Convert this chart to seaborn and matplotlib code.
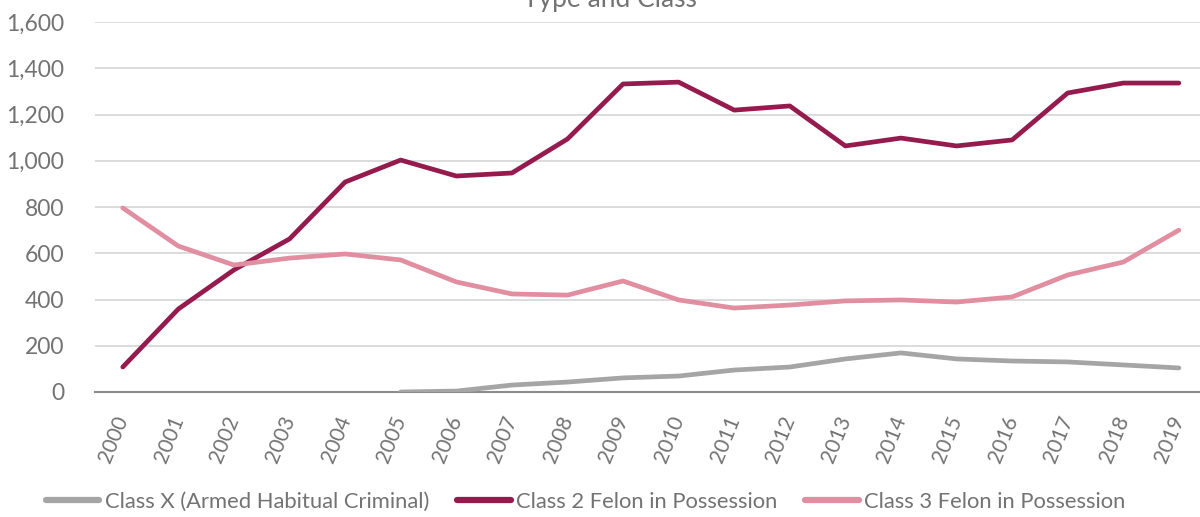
import numpy as np
import pandas as pd
import matplotlib
matplotlib.use("Agg")
import matplotlib.pyplot as plt
import seaborn as sns

# ── Data ─────────────────────────────────────────────────────────────────────
years = list(range(2000, 2020))

class_x = [np.nan, np.nan, np.nan, np.nan, np.nan,
           0, 4, 30, 43, 61, 69, 95, 108, 143, 169, 143, 134, 130, 117, 104]
class_2 = [108, 359, 528, 662, 908, 1003, 934, 947, 1094, 1332,
           1340, 1219, 1237, 1064, 1098, 1064, 1090, 1293, 1336, 1336]
class_3 = [796, 631, 549, 579, 597, 571, 476, 424, 419, 480,
           398, 363, 376, 394, 398, 389, 411, 506, 562, 700]

series_names = ["Class X (Armed Habitual Criminal)",
                "Class 2 Felon in Possession",
                "Class 3 Felon in Possession"]
y_ticks = [0, 200, 400, 600, 800, 1000, 1200, 1400, 1600]

# ── Colours ──────────────────────────────────────────────────────────────────
PALETTE = {
    series_names[0]: '#A5A5A5',
    series_names[1]: '#951A4E',
    series_names[2]: '#E08EA0',
}
TEXT = '#737373'
GRID = '#D9D9D9'

df = pd.DataFrame({
    'year': years * 3,
    'value': class_x + class_2 + class_3,
    'series': [s for s in series_names for _ in years],
})

sns.set_style('white')
plt.rcParams['font.family'] = ['Lato', 'DejaVu Sans']

fig = plt.figure(figsize=(12, 5.17), dpi=100)
ax = fig.add_axes([95 / 1200, 125 / 517, 1 - 95 / 1200, 370 / 517])

sns.lineplot(data=df, x='year', y='value', hue='series', palette=PALETTE,
             hue_order=series_names, linewidth=3.4, ax=ax, legend=False,
             solid_capstyle='round', solid_joinstyle='round')

ax.set_xlim(1999.5, 2019.38)
ax.set_ylim(0, 1600)
ax.set_yticks(y_ticks)
ax.set_yticklabels([f'{v:,}' for v in y_ticks])
ax.set_xticks(years)
ax.set_xticklabels([str(y) for y in years], rotation=68, ha='right',
                   va='center', rotation_mode='anchor')
ax.tick_params(axis='y', length=0, pad=22, labelsize=16.5, labelcolor=TEXT)
ax.tick_params(axis='x', length=0, pad=18, labelsize=15, labelcolor=TEXT)
ax.set_xlabel('')
ax.set_ylabel('')

ax.grid(axis='y', color=GRID, linewidth=1.3)
ax.set_axisbelow(True)
for side in ['top', 'right', 'left']:
    ax.spines[side].set_visible(False)
ax.spines['bottom'].set_color('#8C8C8C')
ax.spines['bottom'].set_linewidth(1.5)
ax.spines['bottom'].set_zorder(1)

# title, clipped at the top as in the source image
fig.text(0.508, 1 - 7 / 517, 'Type and Class', ha='center', va='baseline',
         fontsize=19, color=TEXT)

handles = [plt.Line2D([], [], color=PALETTE[s], linewidth=4.5,
                      solid_capstyle='round') for s in series_names]
leg = fig.legend(handles, series_names, loc='center', ncol=3,
                 bbox_to_anchor=(0.488, 1 - 502 / 517), frameon=False,
                 fontsize=15.8, handlelength=2.45, handletextpad=0.25,
                 columnspacing=1.25)
for t in leg.get_texts():
    t.set_color(TEXT)

fig.savefig('out.png', dpi=100)
